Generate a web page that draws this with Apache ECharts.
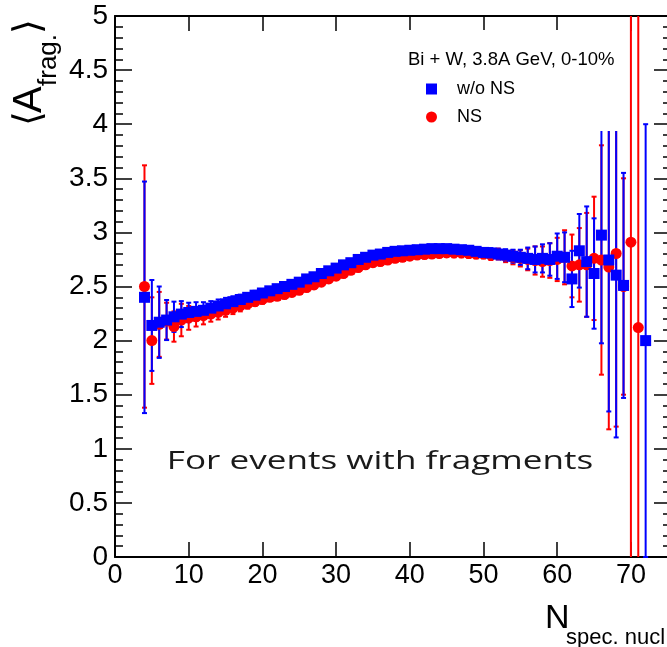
<!DOCTYPE html>
<html>
<head>
<meta charset="utf-8">
<script src="https://cdn.jsdelivr.net/npm/echarts@6/dist/echarts.min.js"></script>
<style>
html,body{margin:0;padding:0;background:#fff;}
#chart{width:667px;height:647px;}
</style>
</head>
<body>
<div id="chart"></div>
<script>
// ---- data ----
const nSpecBlue = [4,5,6,7,8,9,10,11,12,13,14,15,16,17,18,19,20,21,22,23,24,25,26,27,28,29,30,31,32,33,34,35,36,37,38,39,40,41,42,43,44,45,46,47,48,49,50,51,52,53,54,55,56,57,58,59,60,61,62,63,64,65,66,67,68,69,72];
const aFragBlue = [2.40,2.14,2.17,2.19,2.22,2.245,2.26,2.27,2.28,2.30,2.32,2.34,2.36,2.38,2.40,2.42,2.44,2.46,2.48,2.50,2.52,2.54,2.57,2.59,2.62,2.645,2.67,2.70,2.72,2.75,2.77,2.79,2.80,2.815,2.825,2.83,2.835,2.84,2.845,2.85,2.85,2.85,2.845,2.84,2.835,2.825,2.815,2.81,2.80,2.79,2.78,2.77,2.76,2.75,2.76,2.75,2.78,2.77,2.57,2.83,2.73,2.62,2.975,2.745,2.605,2.51,2.00];
const errBlue = [1.07,0.42,0.33,0.185,0.14,0.12,0.09,0.085,0.075,0.065,0.06,0.055,0.05,0.045,0.04,0.04,0.035,0.03,0.03,0.03,0.03,0.03,0.03,0.03,0.03,0.03,0.03,0.03,0.03,0.03,0.03,0.03,0.03,0.03,0.03,0.03,0.03,0.03,0.03,0.03,0.03,0.03,0.03,0.035,0.035,0.04,0.04,0.045,0.05,0.055,0.06,0.07,0.10,0.12,0.13,0.15,0.21,0.23,0.26,0.34,0.51,0.51,1.0,1.4,1.5,1.04,2.0];

const nSpecRed = [4,5,6,7,8,9,10,11,12,13,14,15,16,17,18,19,20,21,22,23,24,25,26,27,28,29,30,31,32,33,34,35,36,37,38,39,40,41,42,43,44,45,46,47,48,49,50,51,52,53,54,55,56,57,58,59,60,61,62,63,64,65,66,67,68,69,70,71];
const aFragRed = [2.50,2.00,2.15,2.18,2.13,2.19,2.21,2.22,2.23,2.245,2.26,2.28,2.30,2.32,2.34,2.36,2.38,2.40,2.41,2.425,2.445,2.465,2.49,2.515,2.54,2.57,2.595,2.62,2.65,2.675,2.70,2.72,2.73,2.745,2.76,2.77,2.78,2.79,2.795,2.80,2.805,2.81,2.81,2.81,2.805,2.80,2.80,2.79,2.80,2.78,2.77,2.76,2.75,2.74,2.73,2.74,2.75,2.77,2.69,2.70,2.70,2.76,2.745,2.68,2.805,2.50,2.91,2.12];
const errRed = [1.12,0.40,0.30,0.17,0.14,0.15,0.11,0.09,0.08,0.07,0.065,0.06,0.055,0.05,0.045,0.04,0.04,0.035,0.035,0.035,0.035,0.035,0.035,0.035,0.035,0.035,0.035,0.035,0.035,0.035,0.035,0.035,0.035,0.035,0.035,0.035,0.035,0.035,0.035,0.035,0.035,0.035,0.04,0.04,0.04,0.04,0.04,0.045,0.05,0.055,0.065,0.075,0.10,0.13,0.14,0.16,0.20,0.25,0.29,0.34,0.48,0.57,1.06,1.5,1.6,1.0,6,6];

const xTicks = [0,10,20,30,40,50,60,70];
const yTicks = ['0','0.5','1','1.5','2','2.5','3','3.5','4','4.5','5'];
const legendTitle = 'Bi + W, 3.8A GeV, 0-10%';
const seriesNames = ['w/o NS','NS'];
const noteText = 'For events with fragments';

// ---- build ----
const Y_MIN = 0, Y_MAX = 5;
function zip(xs, ys, es){ return xs.map((x,i)=>[x, ys[i], es[i]]); }
const blueData = zip(nSpecBlue, aFragBlue, errBlue);
const redData = zip(nSpecRed, aFragRed, errRed);

function errRenderer(color){
  return function(params, api){
    const x = api.value(0), y = api.value(1), e = api.value(2);
    const lo = Math.max(y - e, Y_MIN), hi = Math.min(y + e, Y_MAX);
    const p0 = api.coord([x, lo]), p1 = api.coord([x, hi]);
    const st = {stroke: color, lineWidth: 2};
    const ch = [{type:'line', shape:{x1:p0[0], y1:p0[1], x2:p1[0], y2:p1[1]}, style: st}];
    const hw = 2.5;
    if (y - e >= Y_MIN) ch.push({type:'line', shape:{x1:p0[0]-hw, y1:p0[1], x2:p0[0]+hw, y2:p0[1]}, style: st});
    if (y + e <= Y_MAX) ch.push({type:'line', shape:{x1:p1[0]-hw, y1:p1[1], x2:p1[0]+hw, y2:p1[1]}, style: st});
    return {type:'group', children: ch};
  };
}

const FONT = 'Liberation Sans, Arial, Helvetica, sans-serif';
const chart = echarts.init(document.getElementById('chart'), null, {renderer:'canvas'});
const axisLine = {show:true, onZero:false, lineStyle:{color:'#000', width:2}};

chart.setOption({
  animation: false,
  backgroundColor: '#fff',
  grid: {left: 115, top: 16, width: 556, height: 541, containLabel: false, outerBoundsMode: 'none'},
  title: {text: legendTitle, left: 408, top: 50, padding: 0,
    textStyle: {fontFamily: FONT, fontSize: 18.5, fontWeight: 'normal', color: '#000'}},
  legend: {orient: 'vertical', left: 426, top: 80, padding: 0, itemWidth: 11, itemHeight: 11, itemGap: 10,
    textStyle: {fontFamily: FONT, fontSize: 18, color: '#000', lineHeight: 18, padding: [0,0,0,15]},
    data: [{name: seriesNames[0], icon: 'rect', itemStyle:{opacity:1}}, {name: seriesNames[1], icon: 'circle', itemStyle:{opacity:1}}]},
  xAxis: [
    {type:'value', position:'bottom', min: 0, max: 75.44, interval: 10,
     axisLine: axisLine, splitLine:{show:false},
     axisTick:{inside:true, length:15, lineStyle:{color:'#000', width:1.5}},
     axisLabel:{fontFamily: FONT, fontSize: 27, color:'#000', margin: 5, showMaxLabel:false,
       formatter: v => xTicks.indexOf(v) >= 0 ? String(v) : ''}},
    {type:'value', position:'top', min: 0, max: 75.44, interval: 10,
     axisLine: axisLine, splitLine:{show:false},
     axisTick:{inside:true, length:15, lineStyle:{color:'#000', width:1.5}},
     axisLabel:{show:false}}
  ],
  yAxis: [
    {type:'value', position:'left', min: Y_MIN, max: Y_MAX, interval: 0.5,
     axisLine: axisLine, splitLine:{show:false},
     axisTick:{inside:true, length:17, lineStyle:{color:'#000', width:1.5}},
     minorTick:{show:true, splitNumber:5, length:8, lineStyle:{color:'#000', width:1.5}},
     axisLabel:{fontFamily: FONT, fontSize: 28, color:'#000', margin: 7,
       formatter: v => { const s = String(+v.toFixed(1)); return yTicks.indexOf(s) >= 0 ? s : ''; }}},
    {type:'value', position:'right', min: Y_MIN, max: Y_MAX, interval: 0.5,
     axisLine: axisLine, splitLine:{show:false},
     axisTick:{inside:true, length:17, lineStyle:{color:'#000', width:1.5}},
     minorTick:{show:true, splitNumber:5, length:8, lineStyle:{color:'#000', width:1.5}},
     axisLabel:{show:false}}
  ],
  graphic: [
    {type:'rect', z: 3, shape:{x: 398, y: 30, width: 227, height: 101}, style:{fill:'#fff'}},
    {type:'text', z: 10, x: 380, y: 462, scaleX: 1.35,
     style:{text: noteText, fontFamily: 'Open Sans', fontSize: 26, fill: '#1a1a1a', textAlign:'center', textVerticalAlign:'middle'}},
    // y-axis title, rotated
    {type:'group', x: 45, y: 126, rotation: Math.PI/2, z: 10, children: [
      {type:'text', x: 0, y: -15, style:{text:'\u27E8', fontFamily:'DejaVu Sans', fontSize: 38, fill:'#000', textAlign:'left', textVerticalAlign:'middle'}},
      {type:'text', x: 13, y: -15, style:{text:'A', fontFamily: FONT, fontSize: 40, fill:'#000', textAlign:'left', textVerticalAlign:'middle'}},
      {type:'text', x: 40, y: 4, style:{text:'frag.', fontFamily: FONT, fontSize: 26, fill:'#000', textAlign:'left', textVerticalAlign:'middle'}},
      {type:'text', x: 92, y: -15, style:{text:'\u27E9', fontFamily:'DejaVu Sans', fontSize: 38, fill:'#000', textAlign:'left', textVerticalAlign:'middle'}}
    ]},
    // x-axis title
    {type:'text', z: 10, x: 545, y: 619, style:{text:'N', fontFamily: FONT, fontSize: 34, fill:'#000', textAlign:'left', textVerticalAlign:'middle'}},
    {type:'text', z: 10, x: 566, y: 638, style:{text:'spec. nucl', fontFamily: FONT, fontSize: 22, fill:'#000', textAlign:'left', textVerticalAlign:'middle'}}
  ],
  series: [
    {name: seriesNames[1] + ' err', type:'custom', xAxisIndex:0, yAxisIndex:0, data: redData,
     renderItem: errRenderer('#ff0000'), silent: true, z: 2},
    {name: seriesNames[1], type:'scatter', xAxisIndex:0, yAxisIndex:0, data: redData,
     symbol:'circle', symbolSize: 11, itemStyle:{color:'#ff0000', opacity: 1}, z: 2},
    {name: seriesNames[0] + ' err', type:'custom', xAxisIndex:0, yAxisIndex:0, data: blueData,
     renderItem: errRenderer('#0000ff'), silent: true, z: 2},
    {name: seriesNames[0], type:'scatter', xAxisIndex:0, yAxisIndex:0, data: blueData,
     symbol:'rect', symbolSize: 11, itemStyle:{color:'#0000ff', opacity: 1}, z: 2}
  ]
});
</script>
</body>
</html>
